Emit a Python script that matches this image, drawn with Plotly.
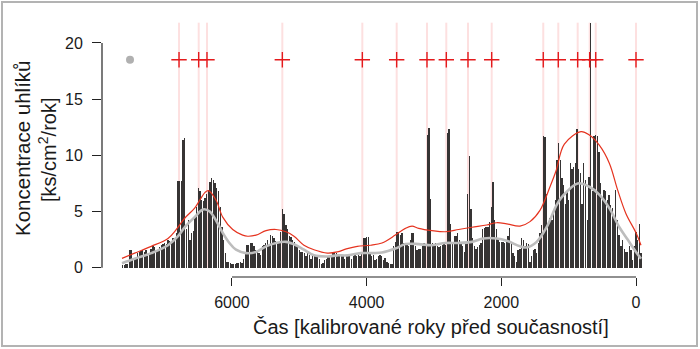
import plotly.graph_objects as go

# ---- data ----
bin_start = 7625   # first bin centre (cal BP), bins of 25 years going towards present
bin_step = 25
bar_values = [
    0.2, 0.2, 0.3, 0.3, 1.6, 1.6, 0.8, 0.8,        # 7625-7450
    0.9, 1.3, 1.4, 1.5, 1.6, 1.4, 1.6, 1.0,        # 7425-7250
    1.2, 1.7, 1.9, 1.8, 1.6, 1.6, 1.8, 2.0,        # 7225-7050
    2.1, 2.2, 2.1, 2.5, 2.4, 2.2, 2.6, 2.5,        # 7025-6850
    3.1, 7.7, 7.7, 7.7, 11.4, 11.5, 3.4, 4.2,      # 6825-6650
    2.5, 3.1, 3.3, 4.5, 5.4, 7.1, 6.8, 6.0,        # 6625-6450
    5.9, 6.2, 6.6, 6.9, 7.6, 8.0, 7.8, 7.5,        # 6425-6250
    7.1, 6.8, 5.4, 3.6, 2.5, 1.3, 0.5, 0.5,        # 6225-6050
    0.4, 0.3, 0.3, 0.3, 0.4, 0.4, 0.5, 0.4,        # 6025-5850
    0.8, 1.3, 2.0, 2.0, 2.2, 2.2, 1.9, 1.6,        # 5825-5650
    1.5, 1.3, 1.1, 1.9, 2.0, 2.2, 2.5, 2.0,        # 5625-5450
    2.9, 2.8, 2.6, 2.4, 2.2, 2.2, 3.2, 5.2,        # 5425-5250
    4.8, 3.8, 3.4, 2.8, 2.7, 2.5, 2.3, 2.0,        # 5225-5050
    1.9, 1.6, 1.4, 1.4, 1.3, 1.0, 1.4, 1.1,        # 5025-4850
    0.8, 1.1, 1.0, 1.1, 1.0, 0.8, 0.3, 0.4,        # 4825-4650
    0.7, 0.8, 1.0, 1.0, 1.1, 1.3, 1.3, 1.3,        # 4625-4450
    1.1, 1.0, 1.1, 1.0, 0.8, 1.0, 1.1, 1.0,        # 4425-4250
    0.8, 1.0, 1.1, 1.0, 1.1, 1.0, 1.3, 2.6,        # 4225-4050
    2.6, 2.7, 2.7, 1.4, 1.0, 1.1, 0.7, 0.8,        # 4025-3850
    1.0, 1.1, 1.0, 0.7, 0.9, 0.5, 0.4, 0.3,        # 3825-3650
    0.3, 1.9, 2.3, 3.2, 3.2, 2.9, 3.1, 2.2,        # 3625-3450
    2.1, 2.2, 1.9, 2.5, 3.1, 3.1, 1.9, 1.6,        # 3425-3250
    1.7, 1.7, 1.9, 2.2, 2.1, 11.8, 12.4, 6.1,      # 3225-3050
    2.2, 2.0, 2.2, 1.9, 1.8, 1.9, 2.0, 2.2,        # 3025-2850
    2.0, 12.0, 12.3, 3.9, 2.3, 2.8, 2.8, 3.1,      # 2825-2650
    2.5, 2.2, 1.9, 1.4, 2.3, 6.6, 9.9, 5.2,        # 2625-2450
    2.6, 1.9, 1.7, 1.8, 2.0, 2.2, 3.4, 3.5,        # 2425-2250
    3.6, 3.6, 4.1, 5.4, 7.6, 4.2, 3.4, 2.6,        # 2225-2050
    2.3, 2.3, 2.3, 2.2, 2.5, 2.8, 3.5, 2.2,        # 2025-1850
    1.3, 1.0, 0.5, 1.6, 1.7, 2.6, 2.5, 1.9,        # 1825-1650
    2.2, 2.1, 0.5, 1.0, 1.6, 1.7, 1.3, 2.2,        # 1625-1450
    3.1, 3.8, 11.7, 11.6, 6.6, 3.9, 4.4, 4.2,      # 1425-1250
    5.1, 6.0, 9.6, 11.1, 9.6, 8.0, 7.4, 5.7,       # 1225-1050
    6.8, 6.0, 9.3, 8.8, 9.0, 9.3, 12.3, 8.8,       # 1025-850
    8.4, 5.7, 9.3, 7.8, 4.2, 8.1, 21.8, 6.8,       # 825-650
    11.7, 11.8, 11.7, 10.3, 7.5, 6.3, 6.9, 6.8,    # 625-450
    6.0, 6.5, 5.6, 5.3, 4.5, 6.9, 4.2, 2.9,        # 425-250
    1.9, 2.5, 1.7, 1.4, 1.4, 1.9, 1.6, 0.7,        # 225-50
    1.9, 3.2, 2.5, 3.9, 1.3,                       # 25-(-75)
]
bar_years = [bin_start - bin_step * i for i in range(len(bar_values))]

red_years = [7633, 7445, 7198, 6950, 6826, 6702, 6554, 6479, 6400, 6350, 6236, 6137,
             5989, 5841, 5766, 5643, 5494, 5346, 5197, 5079, 4931, 4782, 4584, 4436,
             4287, 4139, 3940, 3772, 3574, 3425, 3326, 3227, 3030, 2832, 2634, 2436,
             2217, 2069, 1920, 1722, 1574, 1426, 1277, 1188, 1064, 817, 693, 545,
             396, 272, 149, 0, -74]
red_values = [0.83, 1.3, 1.9, 2.6, 3.4, 4.4, 5.3, 6.0, 6.7, 6.85, 6.0, 4.5,
              3.4, 2.9, 2.8, 2.9, 3.3, 3.4, 3.2, 2.8, 2.0, 1.6, 1.3, 1.4,
              1.7, 1.9, 2.0, 2.2, 2.9, 3.5, 3.7, 3.5, 3.3, 3.2, 3.4, 3.6,
              3.8, 4.0, 3.9, 3.7, 4.1, 5.1, 7.2, 8.6, 11.0, 12.1, 11.8, 10.9,
              9.3, 6.9, 4.8, 3.1, 2.0]

gray_years = [7633, 7445, 7198, 6950, 6801, 6702, 6554, 6455, 6410, 6330, 6236, 6137,
              6038, 5940, 5791, 5643, 5494, 5346, 5197, 5049, 4931, 4782, 4584, 4436,
              4287, 4089, 3891, 3772, 3574, 3425, 3227, 3030, 2832, 2634, 2436, 2267,
              2069, 1920, 1722, 1623, 1475, 1327, 1178, 1099, 866, 693, 545, 396,
              247, 124, 0, -74]
gray_values = [0.4, 0.8, 1.3, 2.0, 2.8, 3.6, 4.5, 5.1, 5.2, 5.0, 4.2, 3.1,
               2.2, 1.6, 1.3, 1.4, 1.9, 2.2, 2.3, 2.0, 1.6, 1.1, 1.0, 1.1,
               1.1, 1.3, 1.3, 1.35, 1.7, 2.1, 2.1, 2.0, 2.2, 2.2, 2.3, 2.6,
               2.6, 2.4, 1.9, 1.8, 2.3, 3.6, 5.6, 6.3, 7.5, 7.2, 6.5, 5.3,
               3.6, 2.5, 1.4, 0.8]

date_years = [6786, 6494, 6371, 5252, 4064, 3554, 3104, 2817, 2495, 2143,
              1377, 1154, 866, 688, 598, 0]
date_level = 18.5
gray_dot_year = 7514
line_top = 21.8

x_ticks = [6000, 4000, 2000, 0]
y_ticks = [0, 5, 10, 15, 20]
x_title = "Čas [kalibrované roky před současností]"
y_title_1 = "Koncentrace uhlíků"
y_title_2 = "[ks/cm<sup>2</sup>/rok]"

# ---- figure ----
W, H = 700, 349
ML, MR, MT, MB = 102, 50, 21, 72
pw, ph = W - ML - MR, H - MT - MB

def px(xp):
    return (xp - ML) / pw

def py(yp):
    return (H - MB - yp) / ph

font = "Liberation Sans, Arial, Helvetica, sans-serif"
fig = go.Figure()

fig.add_trace(go.Bar(x=bar_years, y=bar_values, width=bin_step * 0.8,
                     marker=dict(color="rgba(52,50,50,0.99)", line=dict(width=0))))

fig.add_trace(go.Scatter(x=gray_years, y=gray_values, mode="lines",
                         line=dict(color="#bdbdbd", width=2.6, shape="spline", smoothing=1.0)))
fig.add_trace(go.Scatter(x=red_years, y=red_values, mode="lines",
                         line=dict(color="#e5331f", width=1.2, shape="spline", smoothing=1.0)))

fig.add_trace(go.Scatter(x=date_years, y=[date_level] * len(date_years), mode="markers",
                         marker=dict(symbol="cross-thin", size=11,
                                     line=dict(color="#e41a1c", width=1.4))))
fig.add_trace(go.Scatter(x=[gray_dot_year], y=[date_level], mode="markers",
                         marker=dict(symbol="circle", size=8, color="#b0b0b0")))

# pink vertical lines, below the data
shapes = [dict(type="line", xref="x", yref="y", x0=yr, x1=yr, y0=0, y1=line_top,
               layer="below", line=dict(color="#fde0e0", width=2))
          for yr in date_years]
shapes += [
    dict(type="line", xref="x", yref="paper", x0=x_ticks[0], x1=x_ticks[-1],
         y0=0, y1=0, line=dict(color="#222", width=1.2)),
    dict(type="line", xref="paper", yref="y", x0=0, x1=0,
         y0=y_ticks[0], y1=y_ticks[-1], line=dict(color="#222", width=1.2)),
    dict(type="rect", xref="paper", yref="paper", x0=px(2), x1=px(697),
         y0=py(346), y1=py(2), line=dict(color="#b3b3b3", width=2)),
]

fig.update_layout(
    width=W, height=H,
    margin=dict(l=ML, r=MR, t=MT, b=MB),
    paper_bgcolor="white", plot_bgcolor="rgba(0,0,0,0)",
    showlegend=False,
    bargap=0,
    font=dict(family=font, size=16, color="#1a1a1a"),
    xaxis=dict(range=[(636 - ML) * 14.85, (636 - (W - MR)) * 14.85],
               tickvals=x_ticks, ticktext=[str(v) for v in x_ticks],
               ticks="outside", ticklen=8, tickwidth=1.2, tickcolor="#222",
               showgrid=False, zeroline=False, showline=False,
               tickfont=dict(size=16), ticklabelstandoff=3),
    yaxis=dict(range=[(267.7 - (H - MB)) / 11.24, (267.7 - MT) / 11.24],
               tickvals=y_ticks, ticktext=[str(v) for v in y_ticks],
               ticks="outside", ticklen=9, tickwidth=1.2, tickcolor="#222",
               showgrid=False, zeroline=False, showline=False,
               tickfont=dict(size=16), ticklabelstandoff=6),
    shapes=shapes,
    annotations=[
        dict(text=x_title, xref="paper", yref="paper", x=px(431), y=py(327),
             showarrow=False, font=dict(size=20), xanchor="center", yanchor="middle"),
        dict(text=y_title_1, xref="paper", yref="paper", x=px(22), y=py(148),
             showarrow=False, font=dict(size=20.5), textangle=-90,
             xanchor="center", yanchor="middle"),
        dict(text=y_title_2, xref="paper", yref="paper", x=px(47), y=py(150),
             showarrow=False, font=dict(size=20), textangle=-90,
             xanchor="center", yanchor="middle"),
    ],
)

fig.write_html("out.html")
